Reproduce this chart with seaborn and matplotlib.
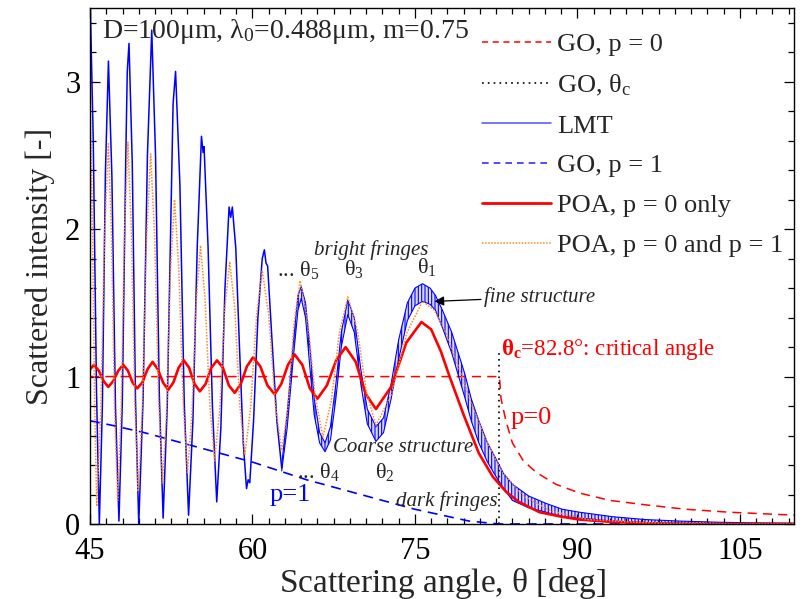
import matplotlib
matplotlib.use("Agg")
import matplotlib.pyplot as plt
import seaborn as sns
from matplotlib.lines import Line2D
from matplotlib.ticker import MultipleLocator

# ---- data ----
# GO, p=0 (red dashed)
go0_x = [45.0, 82.8, 82.95, 83.4, 84.0, 85.0, 86.2, 88.0, 90.2, 93.0, 96.3, 100.0, 104.0, 110.0]
go0_y = [1.0, 1.0, 0.85, 0.70, 0.55, 0.43, 0.35, 0.27, 0.21, 0.16, 0.13, 0.10, 0.08, 0.06]

# GO, critical angle (black dotted)
theta_c = 82.8
crit_x = [theta_c, theta_c]
crit_y = [0.0, 1.17]

# GO, p=1 (blue dashed)
go1_x = [45.0, 47.0, 50.0, 52.5, 55.0, 57.5, 60.0, 62.5, 65.0, 67.5, 70.0, 72.5, 75.0, 77.5, 80.0, 82.8, 110.0]
go1_y = [0.70, 0.67, 0.62, 0.57, 0.52, 0.47, 0.42, 0.36, 0.30, 0.25, 0.20, 0.15, 0.10, 0.06, 0.02, 0.0, 0.0]

# LMT, resolved part (blue solid)
lmt_x = [45.0, 45.3, 45.6, 45.86, 46.14, 46.42, 46.7, 47.02, 47.35, 47.67, 47.98, 48.3, 48.44, 48.6,
         48.9, 49.2, 49.5, 49.9, 50.3, 50.7, 51.05, 51.4, 51.75, 52.13, 52.52, 52.67, 52.9, 53.3,
         53.7, 54.1, 54.5, 54.9, 55.29, 55.44, 55.53, 55.9, 56.3, 56.7, 57.08, 57.46, 57.84, 57.99,
         58.14, 58.46, 58.8, 59.15, 59.45, 59.6, 59.75, 60.1, 60.5, 60.9, 61.1, 61.25, 61.4, 61.8,
         62.25, 62.7]
lmt_y = [3.6, 2.6, 0.9, 0.0, 0.8, 2.38, 3.14, 2.36, 0.8, 0.02, 0.82, 2.48, 3.07, 3.26,
         2.45, 0.84, 0.0, 0.85, 2.5, 3.35, 2.5, 0.87, 0.04, 0.8, 2.28, 2.85, 3.07, 2.3,
         0.82, 0.06, 0.7, 1.88, 2.63, 2.52, 2.56, 1.88, 0.8, 0.15, 0.65, 1.6, 2.15, 2.08,
         2.15, 1.87, 1.2, 0.55, 0.24, 0.30, 0.28, 0.7, 1.4, 1.8, 1.86, 1.77, 1.75, 1.25,
         0.7, 0.38]

# LMT, fine-structure band (upper / lower envelope of the ripple)
band_x = [62.7, 63.2, 63.8, 64.2, 64.5, 64.9, 65.3, 65.7, 66.2, 66.7, 67.2, 67.7, 68.2, 68.8,
          69.4, 70.0, 70.6, 71.4, 72.1, 72.8, 73.5, 74.3, 75.0, 75.7, 76.4, 76.9, 77.6, 78.4,
          79.0, 79.6, 80.2, 80.9, 81.7, 82.5, 83.2, 84.0, 85.5, 87.1, 88.6, 90.2, 93.2, 96.3,
          99.4, 103.0, 106.0, 110.0]
band_hi = [0.40, 0.75, 1.25, 1.55, 1.61, 1.50, 1.20, 0.85, 0.62, 0.55, 0.66, 0.95, 1.30, 1.52,
           1.40, 1.05, 0.78, 0.66, 0.72, 0.95, 1.25, 1.50, 1.60, 1.63, 1.60, 1.55, 1.44, 1.30,
           1.16, 1.02, 0.85, 0.70, 0.55, 0.44, 0.34, 0.27, 0.19, 0.14, 0.10, 0.08, 0.05, 0.03,
           0.02, 0.012, 0.008, 0.006]
band_lo = [0.36, 0.65, 1.15, 1.45, 1.53, 1.40, 1.06, 0.74, 0.55, 0.49, 0.57, 0.85, 1.20, 1.42,
           1.30, 0.95, 0.68, 0.56, 0.62, 0.85, 1.12, 1.38, 1.48, 1.51, 1.49, 1.45, 1.32, 1.16,
           1.01, 0.86, 0.70, 0.55, 0.42, 0.32, 0.24, 0.16, 0.11, 0.08, 0.05, 0.04, 0.02, 0.01,
           0.005, 0.002, 0.0, 0.0]

# POA, p=0 only (red solid)
poa0_x = [45.0, 45.37, 45.81, 46.25, 46.69, 47.15, 47.61, 48.07, 48.5, 48.93, 49.36, 49.83, 50.31,
          50.78, 51.26, 51.74, 52.22, 52.7, 53.18, 53.66, 54.15, 54.65, 55.14, 55.67, 56.2, 56.73,
          57.27, 57.82, 58.36, 58.92, 59.49, 60.05, 60.72, 61.38, 62.05, 62.66, 63.28, 63.89, 64.6,
          65.3, 66.0, 66.87, 67.73, 68.6, 69.53, 70.47, 71.4, 72.8, 74.2, 75.6, 76.5, 77.4, 78.2,
          79.5, 80.9, 82.2, 83.4, 84.6, 86.5, 88.5, 90.2, 93.0, 96.3, 100.0, 110.0]
poa0_y = [1.05, 1.08, 1.04, 0.97, 0.93, 0.97, 1.04, 1.08, 1.04, 0.96, 0.92, 0.96, 1.05,
          1.10, 1.05, 0.96, 0.91, 0.96, 1.06, 1.11, 1.06, 0.95, 0.90, 0.95, 1.06, 1.11,
          1.06, 0.94, 0.89, 0.95, 1.07, 1.13, 1.07, 0.94, 0.88, 0.95, 1.08, 1.15, 1.08,
          0.92, 0.85, 0.94, 1.11, 1.20, 1.10, 0.88, 0.78, 0.93, 1.23, 1.37, 1.32, 1.17, 1.00,
          0.74, 0.48, 0.32, 0.22, 0.15, 0.08, 0.05, 0.03, 0.015, 0.005, 0.0, 0.0]

# POA, p=0 and p=1 (orange dotted)
poa01_x = [45.0, 45.25, 45.43, 45.62, 45.98, 46.34, 46.7, 46.98, 47.27, 47.55, 47.87, 48.18, 48.5,
           48.82, 49.13, 49.45, 49.83, 50.22, 50.6, 50.97, 51.33, 51.7, 52.07, 52.43, 52.8, 53.2,
           53.6, 54.0, 54.4, 54.8, 55.2, 55.63, 56.07, 56.5, 56.97, 57.43, 57.9, 58.37, 58.83,
           59.3, 59.83, 60.37, 60.9, 61.5, 62.1, 62.7, 63.27, 63.83, 64.4, 65.1, 65.8, 66.5,
           67.27, 68.03, 68.8, 69.67, 70.53, 71.4, 72.83, 74.27, 75.7, 76.8, 77.9, 79.0, 80.2,
           81.5, 83.0, 85.0, 87.5, 91.0, 96.0, 100.0, 110.0]
poa01_y = [2.93, 1.9, 0.8, 0.12, 0.74, 1.96, 2.58, 1.97, 0.77, 0.16, 0.77, 1.98, 2.59,
           1.99, 0.82, 0.22, 0.80, 1.93, 2.51, 1.95, 0.84, 0.28, 0.77, 1.71, 2.2, 1.73,
           0.82, 0.35, 0.74, 1.50, 1.89, 1.52, 0.80, 0.43, 0.77, 1.45, 1.78, 1.46, 0.80,
           0.47, 0.79, 1.41, 1.72, 1.42, 0.81, 0.50, 0.79, 1.36, 1.65, 1.38, 0.86, 0.59,
           0.83, 1.30, 1.54, 1.32, 0.89, 0.67, 0.88, 1.30, 1.51, 1.45, 1.29, 1.07, 0.82,
           0.58, 0.36, 0.19, 0.09, 0.03, 0.01, 0.0, 0.0]

legend_labels = ["GO, p = 0", r"GO, $\mathrm{\theta}_\mathrm{c}$", "LMT", "GO, p = 1",
                 "POA, p = 0 only", "POA, p = 0 and p = 1"]

# ---- style ----
sns.set_style("ticks")
plt.rcParams["font.family"] = ["Liberation Serif", "DejaVu Serif"]
plt.rcParams["mathtext.fontset"] = "custom"
plt.rcParams["mathtext.rm"] = "Liberation Serif"
plt.rcParams["mathtext.it"] = "Liberation Serif:italic"
plt.rcParams["mathtext.bf"] = "Liberation Serif:bold"
plt.rcParams["hatch.linewidth"] = 0.8

RED = "#ff0000"
BLUE = "#0000ff"
ORANGE = "#ff8c1a"

fig = plt.figure(figsize=(8.03, 5.99), dpi=100)
ax = fig.add_axes([0.1121, 0.1252, 0.8767, 0.8614])

sns.lineplot(x=go0_x, y=go0_y, ax=ax, color=RED, linewidth=1.1, linestyle=(0, (6, 4)),
             estimator=None, sort=False)
sns.lineplot(x=crit_x, y=crit_y, ax=ax, color="black", linewidth=1.2, linestyle=(0, (1, 2.5)),
             estimator=None, sort=False)
sns.lineplot(x=lmt_x, y=lmt_y, ax=ax, color=BLUE, linewidth=1.1, estimator=None, sort=False)
ax.fill_between(band_x, band_lo, band_hi, facecolor=(0, 0, 1, 0.15), edgecolor=BLUE,
                hatch="|||||", linewidth=0)
sns.lineplot(x=band_x, y=band_hi, ax=ax, color=BLUE, linewidth=0.8, estimator=None, sort=False)
sns.lineplot(x=band_x, y=band_lo, ax=ax, color=BLUE, linewidth=0.8, estimator=None, sort=False)
sns.lineplot(x=go1_x, y=go1_y, ax=ax, color=BLUE, linewidth=1.2, linestyle=(0, (6, 4)),
             estimator=None, sort=False)
sns.lineplot(x=poa0_x, y=poa0_y, ax=ax, color=RED, linewidth=1.9, estimator=None, sort=False)
sns.lineplot(x=poa01_x, y=poa01_y, ax=ax, color=ORANGE, linewidth=1.1, linestyle=(0, (1, 1)),
             estimator=None, sort=False)

ax.set_xlim(45, 110)
ax.set_ylim(0, 3.5)
ax.xaxis.set_major_locator(MultipleLocator(15))
ax.xaxis.set_minor_locator(MultipleLocator(1.5))
ax.yaxis.set_major_locator(MultipleLocator(1))
ax.yaxis.set_minor_locator(MultipleLocator(0.2))
ax.tick_params(which="both", direction="in", top=True, right=True, width=0.9, colors="black")
ax.tick_params(which="major", length=7, labelsize=22)
ax.tick_params(axis="x", which="major", pad=9)
ax.tick_params(axis="y", which="major", pad=7)
ax.tick_params(which="minor", length=4)
for s in ax.spines.values():
    s.set_linewidth(1.0)
    s.set_color("black")

ax.set_xlabel(r"Scattering angle, $\mathrm{\theta}$ [deg]", fontsize=24, labelpad=0)
ax.set_ylabel("Scattered intensity [-]", fontsize=23, labelpad=7)

# annotations
ax.text(46.08, 3.34, r"D=100μm, $\mathrm{\lambda}_0$=0.488μm, m=0.75", fontsize=20,
        ha="left", va="center")
ax.text(71.0, 1.86, "bright fringes", fontsize=15, style="italic", ha="center", va="center")
ax.text(62.3, 1.72, r"... $\mathrm{\theta}_5$", fontsize=16, ha="left", va="center")
ax.text(69.4, 1.73, r"$\mathrm{\theta}_3$", fontsize=16, ha="center", va="center")
ax.text(76.06, 1.74, r"$\mathrm{\theta}_1$", fontsize=16, ha="center", va="center")
ax.annotate("fine structure", xy=(76.8, 1.51), xytext=(81.4, 1.54), fontsize=15,
            style="italic", ha="left", va="center",
            arrowprops=dict(arrowstyle="-|>", color="black", lw=0.9, mutation_scale=14,
                            shrinkA=0, shrinkB=0))
ax.text(73.9, 0.52, "Coarse structure", fontsize=15, style="italic", ha="center", va="center")
ax.text(64.07, 0.35, r"... $\mathrm{\theta}_4$", fontsize=16, ha="left", va="center")
ax.text(72.2, 0.355, r"$\mathrm{\theta}_2$", fontsize=16, ha="center", va="center")
ax.text(77.94, 0.155, "dark fringes", fontsize=15, style="italic", ha="center", va="center")
ax.text(63.5, 0.2, "p=1", fontsize=19, color=BLUE, ha="center", va="center")
ax.text(83.86, 0.72, "p=0", fontsize=19, color=RED, ha="left", va="center")
ax.text(82.95, 1.185, r"$\mathbf{\theta_c}$=82.8°: critical angle", fontsize=16.5, color=RED,
        ha="left", va="center")

handles = [
    Line2D([], [], color=RED, lw=1.1, linestyle=(0, (4, 3))),
    Line2D([], [], color="black", lw=1.2, linestyle=(0, (1, 2.5))),
    Line2D([], [], color="#5050ff", lw=1.1),
    Line2D([], [], color="#3030ff", lw=1.2, linestyle=(0, (4, 3))),
    Line2D([], [], color=RED, lw=2.0),
    Line2D([], [], color=ORANGE, lw=1.1, linestyle=(0, (1, 1))),
]
ax.legend(handles, legend_labels, loc="upper left", bbox_to_anchor=(0.557, 0.952),
          frameon=False, fontsize=19, handlelength=2.6, handletextpad=0.25,
          labelspacing=0.62, borderaxespad=0, borderpad=0)

plt.savefig("out.png", dpi=100)
plt.close()
